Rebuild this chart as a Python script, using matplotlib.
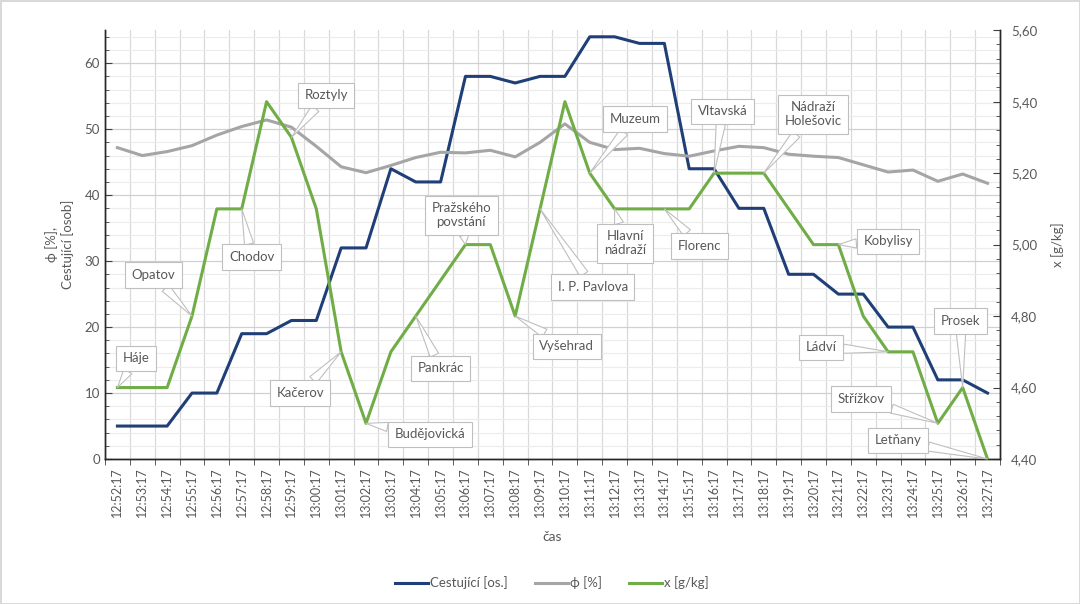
import matplotlib
matplotlib.use("Agg")
import matplotlib.pyplot as plt
from matplotlib.ticker import MultipleLocator, FuncFormatter
from matplotlib.lines import Line2D

plt.rcParams['font.family'] = ['Lato', 'DejaVu Sans']

times = ["12:52:17", "12:53:17", "12:54:17", "12:55:17", "12:56:17", "12:57:17",
         "12:58:17", "12:59:17", "13:00:17", "13:01:17", "13:02:17", "13:03:17",
         "13:04:17", "13:05:17", "13:06:17", "13:07:17", "13:08:17", "13:09:17",
         "13:10:17", "13:11:17", "13:12:17", "13:13:17", "13:14:17", "13:15:17",
         "13:16:17", "13:17:17", "13:18:17", "13:19:17", "13:20:17", "13:21:17",
         "13:22:17", "13:23:17", "13:24:17", "13:25:17", "13:26:17", "13:27:17"]

passengers = [5, 5, 5, 10, 10, 19, 19, 21, 21, 32, 32, 44, 42, 42, 58, 58, 57, 58,
              58, 64, 64, 63, 63, 44, 44, 38, 38, 28, 28, 25, 25, 20, 20, 12, 12, 10]

phi = [47.2, 46.0, 46.6, 47.5, 49.1, 50.4, 51.4, 50.3, 47.4, 44.3, 43.4, 44.5,
       45.7, 46.5, 46.4, 46.8, 45.8, 48.0, 50.8, 48.0, 46.9, 47.1, 46.3, 45.9,
       46.7, 47.4, 47.2, 46.2, 45.9, 45.7, 44.6, 43.5, 43.8, 42.1, 43.2, 41.8]

x_gkg = [4.60, 4.60, 4.60, 4.80, 5.10, 5.10, 5.40, 5.30, 5.10, 4.70, 4.50, 4.70,
         4.80, 4.90, 5.00, 5.00, 4.80, 5.10, 5.40, 5.20, 5.10, 5.10, 5.10, 5.10,
         5.20, 5.20, 5.20, 5.10, 5.00, 5.00, 4.80, 4.70, 4.70, 4.50, 4.60, 4.40]

stations = ["Háje", "Opatov", "Chodov", "Roztyly", "Kačerov", "Budějovická",
            "Pankrác", "Pražského\npovstání", "Vyšehrad", "I. P. Pavlova", "Muzeum",
            "Hlavní\nnádraží", "Florenc", "Vltavská", "Nádraží\nHolešovic",
            "Kobylisy", "Ládví", "Střížkov", "Prosek", "Letňany"]
station_idx = [0, 3, 5, 7, 9, 10, 12, 14, 16, 17, 19, 20, 22, 24, 26, 29, 31, 33, 34, 35]

# label box positions (axes fraction)
label_pos = [(0.035, 0.235), (0.054, 0.429), (0.164, 0.471), (0.247, 0.848),
             (0.218, 0.154), (0.363, 0.058), (0.375, 0.212), (0.398, 0.568),
             (0.516, 0.263), (0.545, 0.401), (0.592, 0.793), (0.581, 0.503),
             (0.664, 0.497), (0.690, 0.811), (0.791, 0.804), (0.875, 0.508),
             (0.800, 0.261), (0.845, 0.140), (0.956, 0.322), (0.886, 0.044)]

txt = "#595959"
blue = "#203f78"
gray = "#a5a5a5"
green = "#70ad47"

fig = plt.figure(figsize=(10.8, 6.04), dpi=100, edgecolor="#d9d9d9", linewidth=1)
ax = fig.add_axes([0.0972, 0.24, 0.8287, 0.71])
ax2 = ax.twinx()

pos = list(range(len(times)))
ax.plot(pos, passengers, color=blue, lw=2.2, zorder=3)
ax.plot(pos, phi, color=gray, lw=2.2, zorder=3)
ax2.plot(pos, x_gkg, color=green, lw=2.2, zorder=3)

ax.set_xlim(-0.5, len(times) - 0.5)
ax.set_ylim(0, 65)
ax2.set_ylim(4.40, 5.60)

ax.set_xticks(pos)
ax.set_xticklabels(times, rotation=90, fontsize=9, color=txt)
ax.set_xticks([p - 0.5 for p in pos] + [len(times) - 0.5], minor=True)
ax.tick_params(axis="x", which="major", length=0, pad=6)
ax.tick_params(axis="x", which="minor", length=4, direction="out", color="#404040")

ax.yaxis.set_major_locator(MultipleLocator(10))
ax.yaxis.set_minor_locator(MultipleLocator(2))
ax.tick_params(axis="y", which="major", length=5, direction="in", labelsize=9.5,
               labelcolor=txt, color="#404040")
ax.tick_params(axis="y", which="minor", length=3, direction="in", color="#404040")

ax2.yaxis.set_major_locator(MultipleLocator(0.2))
ax2.yaxis.set_minor_locator(MultipleLocator(0.04))
ax2.yaxis.set_major_formatter(FuncFormatter(lambda v, p: f"{v:.2f}".replace(".", ",")))
ax2.tick_params(axis="y", which="major", length=5, direction="in", labelsize=9.5,
                labelcolor=txt, color="#404040", pad=8)
ax2.tick_params(axis="y", which="minor", length=3, direction="in", color="#404040")

ax.grid(which="minor", axis="x", color="#d9d9d9", lw=0.9)
ax.grid(which="major", axis="y", color="#d0d0d0", lw=0.9)
ax.grid(which="minor", axis="y", color="#ececec", lw=0.8)
ax.set_axisbelow(True)

for a in (ax, ax2):
    a.spines["top"].set_visible(False)
    for s in ("left", "right", "bottom"):
        a.spines[s].set_color("#262626")
        a.spines[s].set_linewidth(1.0)

ax.set_ylabel("ϕ [%],\nCestující [osob]", fontsize=9.5, color=txt, labelpad=8)
ax2.set_ylabel("x [g/kg]", fontsize=9.5, color=txt, labelpad=10)
ax.set_xlabel("čas", fontsize=10, color=txt, labelpad=10)

for name, i, (fx, fy) in zip(stations, station_idx, label_pos):
    ax2.annotate(name, xy=(i, x_gkg[i]), xycoords="data",
                 xytext=(fx, fy), textcoords="axes fraction",
                 ha="center", va="center", fontsize=9.5, color=txt,
                 multialignment="center", zorder=5,
                 bbox=dict(boxstyle="square,pad=0.5", fc="white", ec="#bfbfbf", lw=0.8),
                 arrowprops=dict(arrowstyle="wedge,tail_width=0.7", fc="white",
                                 ec="#bfbfbf", lw=0.8, shrinkA=0, shrinkB=0))

handles = [Line2D([], [], color=blue, lw=2.2), Line2D([], [], color=gray, lw=2.2),
           Line2D([], [], color=green, lw=2.2)]
fig.legend(handles, ["Cestující [os.]", "ϕ [%]", "x [g/kg]"], loc="center",
           bbox_to_anchor=(0.511, 0.035), ncol=3, frameon=False, fontsize=9.5,
           labelcolor=txt, handlelength=2.5, handletextpad=0.2, columnspacing=2)

fig.savefig("out.png", dpi=100)
